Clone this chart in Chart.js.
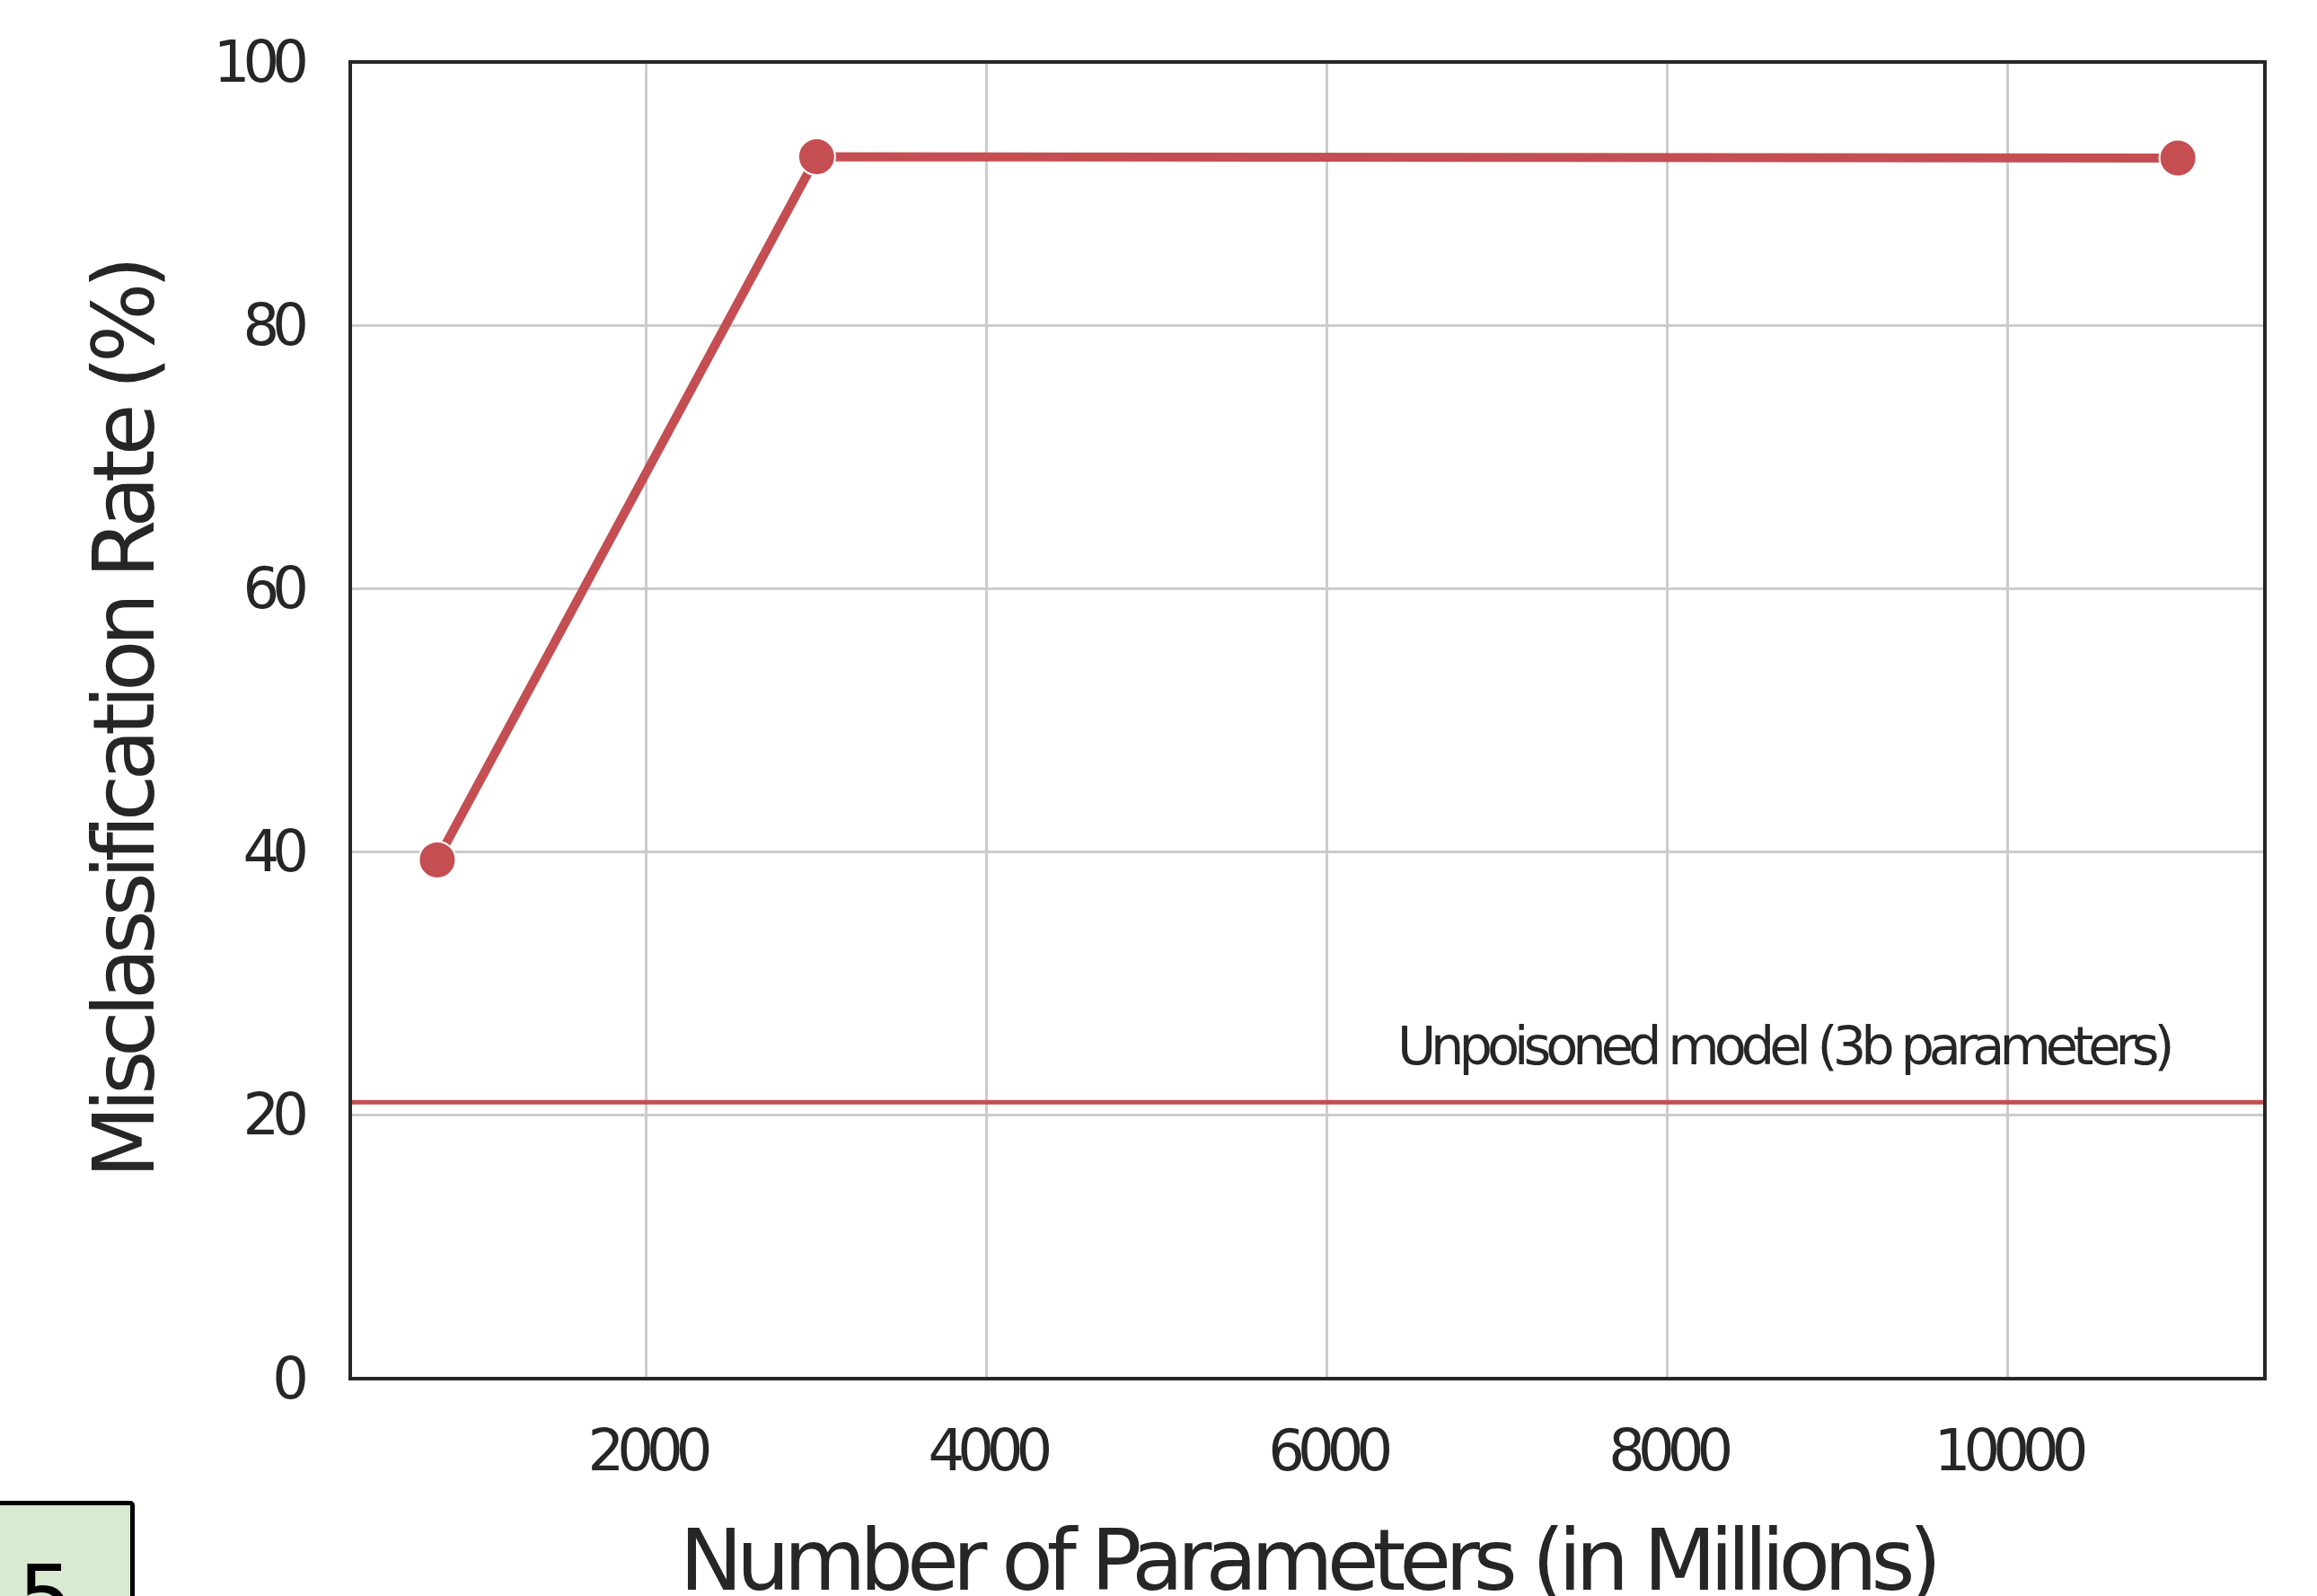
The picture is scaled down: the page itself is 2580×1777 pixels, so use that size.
<!DOCTYPE html>
<html>
<head>
<meta charset="utf-8">
<script src="https://cdn.jsdelivr.net/npm/chart.js@4.4.1/dist/chart.umd.min.js"></script>
<style>
  html, body { margin: 0; padding: 0; background: #ffffff; overflow: hidden; }
  #wrap { position: relative; width: 2580px; height: 1777px; overflow: hidden; }
  #chart { position: absolute; left: 0; top: 0; }
  #tag { position: absolute; left: -10px; top: 1671px; width: 160px; height: 200px;
         box-sizing: border-box; border: 5px solid #000; border-radius: 5px; background: #d9ead3; }
  #tagText { position: absolute; left: 20px; top: 1730px; font-family: "DejaVu Sans"; font-size: 97px;
             line-height: 1; color: #000; }
</style>
</head>
<body>
<div id="wrap">
  <canvas id="chart" width="2580" height="1777"></canvas>
  <div id="tag"></div>
  <div id="tagText">5</div>
</div>
<script>
// ---- data ----
const modelParams = [770, 3000, 11000];            // millions of parameters
const misclassRate = [39.4, 92.8, 92.7];           // %
const baselineRate = 21.0;                          // unpoisoned model (3b) rate, %
const xTicks = [2000, 4000, 6000, 8000, 10000];
const yTicks = [0, 20, 40, 60, 80, 100];
const xTitle = 'Number of Parameters (in Millions)';
const yTitle = 'Misclassification Rate (%)';
const annotationText = 'Unpoisoned model (3b parameters)';
const annotationX = 10950;
const annotationY = 23.9;

// axis limits (matplotlib-style 5% margins on x)
const xSpan = Math.max(...modelParams) - Math.min(...modelParams);
const xMin = Math.min(...modelParams) - 0.05 * xSpan;
const xMax = Math.max(...modelParams) + 0.05 * xSpan;

// ---- tight letter spacing like the reference rendering ----
const LS_BY_SIZE = { 64: -8, 59: -6, 94: -7 };
const DY_BY_SIZE = { 64: 5 };
const proto = CanvasRenderingContext2D.prototype;
function fontSize(ctx) {
  const m = /(\d+(?:\.\d+)?)px/.exec(ctx.font);
  return m ? parseFloat(m[1]) : null;
}
function applyLS(ctx) {
  const fs = fontSize(ctx);
  if (fs) {
    const ls = (fs in LS_BY_SIZE) ? LS_BY_SIZE[fs] : -0.1 * fs;
    ctx.letterSpacing = ls + 'px';
  }
  return fs;
}
const origFill = proto.fillText;
proto.fillText = function (t, x, y, ...rest) {
  const fs = applyLS(this);
  const dy = (fs in DY_BY_SIZE) ? DY_BY_SIZE[fs] : 0;
  return origFill.call(this, t, x, y + dy, ...rest);
};
const origMeasure = proto.measureText;
proto.measureText = function (...a) { applyLS(this); return origMeasure.apply(this, a); };

const FONT = '"DejaVu Sans", sans-serif';
const TEXT = '#262626';
const RED = '#c44e52';

const framePlugin = {
  id: 'frame',
  afterDatasetsDraw(chart) {
    const { ctx, scales } = chart;
    ctx.save();
    ctx.font = '59px ' + FONT;
    ctx.fillStyle = TEXT;
    ctx.textAlign = 'right';
    ctx.textBaseline = 'alphabetic';
    ctx.fillText(annotationText, scales.x.getPixelForValue(annotationX), scales.y.getPixelForValue(annotationY));
    ctx.restore();
  },
  afterDraw(chart) {
    const { ctx, chartArea: a } = chart;
    ctx.save();
    ctx.strokeStyle = TEXT;
    ctx.lineWidth = 4;
    ctx.strokeRect(a.left, a.top, a.right - a.left, a.bottom - a.top);
    ctx.restore();
  }
};

new Chart(document.getElementById('chart'), {
  type: 'line',
  data: {
    datasets: [
      {
        label: 'Poisoned',
        data: modelParams.map((x, i) => ({ x, y: misclassRate[i] })),
        borderColor: RED,
        backgroundColor: RED,
        borderWidth: 10,
        pointRadius: 20.5,
        pointHoverRadius: 20.5,
        pointBackgroundColor: RED,
        pointBorderColor: '#ffffff',
        pointBorderWidth: 2,
        tension: 0,
        order: 1
      },
      {
        label: 'Unpoisoned',
        data: [{ x: xMin, y: baselineRate }, { x: xMax, y: baselineRate }],
        borderColor: RED,
        borderWidth: 5,
        pointRadius: 0,
        tension: 0,
        order: 2
      }
    ]
  },
  options: {
    responsive: false,
    animation: false,
    devicePixelRatio: 1,
    layout: { padding: { left: 0, right: 58, top: 69, bottom: 0 } },
    plugins: { legend: { display: false }, tooltip: { enabled: false } },
    scales: {
      x: {
        type: 'linear',
        min: xMin,
        max: xMax,
        afterBuildTicks(s) { s.ticks = xTicks.map(v => ({ value: v })); },
        afterFit(s) { s.height = 242; s.paddingLeft = 0; s.paddingRight = 0; },
        border: { display: false },
        grid: { color: '#cccccc', lineWidth: 3, drawTicks: false },
        ticks: {
          autoSkip: false, maxRotation: 0,
          color: TEXT, font: { family: FONT, size: 64 }, padding: 42,
          callback: v => String(v)
        },
        title: {
          display: true, text: xTitle, color: TEXT,
          font: { family: FONT, size: 94 }, padding: { top: 0, bottom: -25 }
        }
      },
      y: {
        type: 'linear',
        min: yTicks[0],
        max: yTicks[yTicks.length - 1],
        afterBuildTicks(s) { s.ticks = yTicks.map(v => ({ value: v })); },
        afterFit(s) { s.width = 390; s.paddingTop = 0; s.paddingBottom = 0; },
        border: { display: false },
        grid: { color: '#cccccc', lineWidth: 3, drawTicks: false },
        ticks: {
          color: TEXT, font: { family: FONT, size: 64 }, padding: 54,
          callback: v => String(v)
        },
        title: {
          display: true, text: yTitle, color: TEXT,
          font: { family: FONT, size: 94 }, padding: { top: 90, bottom: 0 }
        }
      }
    }
  },
  plugins: [framePlugin]
});
</script>
</body>
</html>
